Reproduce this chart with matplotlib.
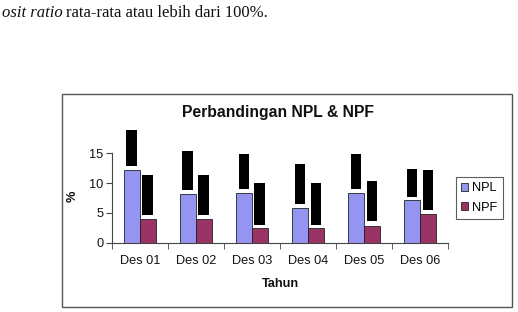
import matplotlib
matplotlib.use("Agg")
import matplotlib.pyplot as plt
from matplotlib.patches import Rectangle, Patch
import numpy as np

categories = ["Des 01", "Des 02", "Des 03", "Des 04", "Des 05", "Des 06"]
npl = [12.2, 8.15, 8.3, 5.8, 8.35, 7.2]
npf = [4.05, 4.05, 2.4, 2.4, 2.85, 4.75]
# redacted (blacked-out) data label boxes: bottom and top in data units
npl_label_bottom = [12.9, 8.8, 9.0, 6.5, 8.95, 7.75]
npl_label_top = [18.9, 15.45, 14.9, 13.25, 14.9, 12.4]
npf_label_bottom = [4.7, 4.7, 3.0, 3.0, 3.6, 5.5]
npf_label_top = [11.3, 11.3, 9.95, 9.95, 10.4, 12.25]
yticks = [0, 5, 10, 15]

W, H = 518, 312
fig = plt.figure(figsize=(W / 100, H / 100), dpi=100)
fig.patch.set_facecolor("white")

def fx(px):
    return px / W

def fy(py):
    return 1 - py / H

# chart outer border
fig.patches.append(Rectangle((fx(62), fy(307)), fx(512) - fx(62), fy(94) - fy(307),
                             transform=fig.transFigure, fill=False,
                             edgecolor="#555555", linewidth=1.0))

ax = fig.add_axes([fx(111.7), fy(242.7), fx(448) - fx(111.7), fy(153.3) - fy(242.7)])
x = np.arange(len(categories))
bw = 0.285
npl_color = "#9494F2"
npf_color = "#993366"
ax.bar(x - bw / 2, npl, bw, color=npl_color, edgecolor="#222222", linewidth=0.6, label="NPL", zorder=2)
ax.bar(x + bw / 2, npf, bw, color=npf_color, edgecolor="#222222", linewidth=0.6, label="NPF", zorder=2)

rw = 0.19
ax.bar(x - bw / 2, np.array(npl_label_top) - np.array(npl_label_bottom), rw,
       bottom=npl_label_bottom, color="black", clip_on=False, zorder=3)
ax.bar(x + bw / 2, np.array(npf_label_top) - np.array(npf_label_bottom), rw,
       bottom=npf_label_bottom, color="black", clip_on=False, zorder=3)

ax.set_xlim(-0.5, len(categories) - 0.5)
ax.set_ylim(0, 15)
ax.set_yticks(yticks)
ax.set_xticks(x)
ax.set_xticklabels(categories, fontsize=9.2, family="Liberation Sans", color="#111111")
ax.set_xticks(np.arange(-0.5, len(categories), 1.0), minor=True)
ax.tick_params(axis="x", which="major", length=0, pad=9)
ax.tick_params(axis="x", which="minor", length=4, direction="out", color="#444444")
ax.tick_params(axis="y", length=4, direction="out", color="#444444", pad=2)
for lab in ax.get_yticklabels():
    lab.set_fontsize(9.2)
    lab.set_family("Liberation Sans")
    lab.set_color("#111111")
for s in ["top", "right"]:
    ax.spines[s].set_visible(False)
for s in ["left", "bottom"]:
    ax.spines[s].set_color("#444444")
    ax.spines[s].set_linewidth(0.8)
ax.patch.set_alpha(0)

fig.text(fx(278), fy(113), "Perbandingan NPL & NPF", ha="center", va="center",
         fontsize=11.3, fontweight="bold", family="Liberation Sans", color="#111111")
fig.text(fx(280), fy(284), "Tahun", ha="center", va="center",
         fontsize=9.2, fontweight="bold", family="Liberation Sans", color="#111111")
fig.text(fx(73), fy(196), "%", ha="center", va="center", rotation=90,
         fontsize=9.2, fontweight="bold", family="Liberation Sans", color="#111111")

handles = [Patch(facecolor=npl_color, edgecolor="#222222", linewidth=0.6, label="NPL"),
           Patch(facecolor=npf_color, edgecolor="#222222", linewidth=0.6, label="NPF")]
leg = fig.legend(handles=handles, loc="center", bbox_to_anchor=(fx(479.5), fy(198)),
                 prop={"family": "Liberation Sans", "size": 9.2},
                 handlelength=0.55, handleheight=0.55, handletextpad=0.3,
                 labelspacing=0.55, borderpad=0.4, borderaxespad=0,
                 frameon=True, fancybox=False)
leg.get_frame().set_edgecolor("#333333")
leg.get_frame().set_linewidth(0.8)

# body text above the chart
t1 = fig.text(fx(2), fy(17.3), "osit ratio", ha="left", va="baseline",
              fontsize=12, family="Liberation Serif", style="italic", color="#111111")
fig.canvas.draw()
bb = t1.get_window_extent()
fig.text((bb.x1 + 3.5) / W, fy(17.3), "rata-rata atau lebih dari 100%.", ha="left", va="baseline",
         fontsize=12, family="Liberation Serif", color="#111111")

fig.savefig("out.png", dpi=100)
